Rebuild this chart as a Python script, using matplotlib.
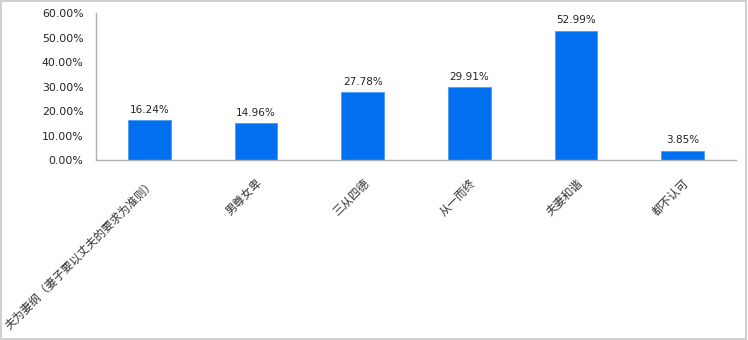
import numpy as np
import matplotlib.pyplot as plt
import matplotlib.ticker as mtick

# Data
categories = ["夫为妻纲（妻子要以丈夫的要求为准则）", "男尊女卑", "三从四德",
              "从一而终", "夫妻和谐", "都不认可"]
values = [16.24, 14.96, 27.78, 29.91, 52.99, 3.85]

plt.rcParams['font.family'] = ['Noto Sans CJK SC', 'DejaVu Sans']

fig = plt.figure(figsize=(7.48, 3.40), dpi=100)
ax = fig.add_axes([0.1283, 0.5294, 0.8557, 0.4309])

x = np.arange(len(categories))
bars = ax.bar(x, values, width=0.4, color='#0070f0', edgecolor='#4c9cf5', linewidth=0.6)

for xi, v in zip(x, values):
    ax.text(xi, v + 2.2, "%.2f%%" % v, ha='center', va='bottom',
            fontsize=7.5, color='#222222', family='DejaVu Sans')

ax.set_xlim(-0.5, len(categories) - 0.5)
ax.set_ylim(0, 60)
ax.set_yticks(np.arange(0, 61, 10))
ax.yaxis.set_major_formatter(mtick.FuncFormatter(lambda v, p: "%.2f%%" % v))
ax.tick_params(axis='y', length=0, labelsize=7.8, pad=9, labelcolor='#222222')
for lbl in ax.get_yticklabels():
    lbl.set_family('DejaVu Sans')

ax.set_xticks(x)
ax.set_xticklabels(categories, rotation=45, ha='right', va='top',
                   rotation_mode='anchor', fontsize=8.3, color='#333333')
ax.tick_params(axis='x', length=0, pad=12)

for s in ['top', 'right']:
    ax.spines[s].set_visible(False)
for s in ['left', 'bottom']:
    ax.spines[s].set_color('#b0b0b0')
    ax.spines[s].set_linewidth(1.0)

# figure border
fig.patches.append(plt.Rectangle((0.002, 0.003), 0.995, 0.993, transform=fig.transFigure,
                                 fill=False, edgecolor='#c8c8c8', linewidth=1.2))

fig.savefig("out.png", dpi=100)
